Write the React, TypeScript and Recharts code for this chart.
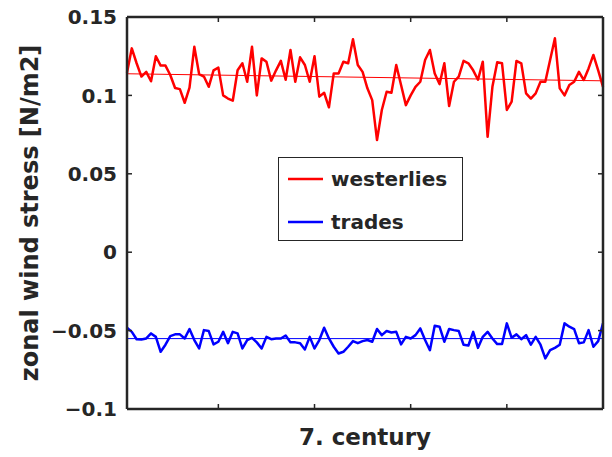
import React from "react";
import {
  LineChart,
  Line,
  XAxis,
  YAxis,
  Legend,
} from "recharts";

// years of the 7th century, one sample per year
const YEARS = Array.from({ length: 100 }, (_, i) => 601 + i);

const WESTERLIES = [
  0.1145, 0.13, 0.1205, 0.112, 0.115, 0.109, 0.125, 0.119, 0.119, 0.113,
  0.1047, 0.104, 0.0953, 0.105, 0.131, 0.1136, 0.112, 0.1055, 0.116, 0.1177,
  0.1, 0.098, 0.0966, 0.116, 0.1205, 0.1087, 0.131, 0.1, 0.1236, 0.1215,
  0.1094, 0.116, 0.122, 0.11, 0.129, 0.1087, 0.1243, 0.1194, 0.1087, 0.125,
  0.0992, 0.1017, 0.0924, 0.114, 0.114, 0.1215, 0.1205, 0.1358, 0.1194, 0.115,
  0.1045, 0.097, 0.0715, 0.0907, 0.1023, 0.1017, 0.1194, 0.1066, 0.0938, 0.1,
  0.1055, 0.1087, 0.1226, 0.129, 0.114, 0.1072, 0.1205, 0.0932, 0.1087, 0.112,
  0.122, 0.1205, 0.116, 0.11, 0.1215, 0.0736, 0.1055, 0.1211, 0.1205, 0.0907,
  0.096, 0.122, 0.1205, 0.1013, 0.098, 0.1013, 0.1087, 0.1087, 0.1226, 0.1364,
  0.1045, 0.1, 0.1066, 0.1087, 0.115, 0.1098, 0.1172, 0.1258, 0.116, 0.1055,
];

const TRADES = [
  -0.0482, -0.0508, -0.0555, -0.0557, -0.055, -0.0518, -0.054, -0.0635, -0.059, -0.0535,
  -0.0524, -0.0524, -0.055, -0.049, -0.056, -0.0614, -0.0497, -0.0503, -0.0588, -0.0571,
  -0.0508, -0.058, -0.0508, -0.0518, -0.0614, -0.056, -0.0546, -0.0575, -0.0614, -0.054,
  -0.0555, -0.0551, -0.055, -0.0531, -0.0575, -0.0575, -0.058, -0.062, -0.054, -0.0614,
  -0.056, -0.0482, -0.055, -0.0603, -0.0646, -0.0635, -0.0603, -0.0567, -0.058, -0.0567,
  -0.056, -0.0571, -0.049, -0.0529, -0.0503, -0.0512, -0.0508, -0.0588, -0.054, -0.055,
  -0.0529, -0.0486, -0.056, -0.0625, -0.0469, -0.0475, -0.0571, -0.049, -0.0497, -0.0503,
  -0.059, -0.0595, -0.0508, -0.061, -0.054, -0.0508, -0.055, -0.0586, -0.0586, -0.0454,
  -0.0546, -0.0524, -0.0555, -0.0529, -0.059, -0.054, -0.059, -0.0677, -0.0625, -0.061,
  -0.059, -0.0454, -0.0475, -0.049, -0.058, -0.0575, -0.0497, -0.0603, -0.0567, -0.0454,
];

// linear trends, start and end values
const WESTERLIES_TREND = [0.1138, 0.1093];
const TRADES_TREND = [-0.0551, -0.0551];

const SERIES_ORDER = ["westerlies", "trades"];
const X_TICKS = [620, 640, 660, 680];
const Y_TICKS = [-0.1, -0.05, 0, 0.05, 0.1, 0.15];

const FONT = "'DejaVu Sans', sans-serif";
const INK = "#262626";

const last = YEARS.length - 1;
const data = YEARS.map((year, i) => ({
  year,
  westerlies: WESTERLIES[i],
  trades: TRADES[i],
  wTrend: i === 0 ? WESTERLIES_TREND[0] : i === last ? WESTERLIES_TREND[1] : null,
  tTrend: i === 0 ? TRADES_TREND[0] : i === last ? TRADES_TREND[1] : null,
}));

const fmtY = (v: number) => {
  if (v === 0) return "0";
  const s = String(Math.abs(Math.round(v * 1000) / 1000));
  return v < 0 ? "\u2212" + s : s;
};

function LegendBox({ payload }: any) {
  const items = SERIES_ORDER.map((key) =>
    (payload || []).find((p: any) => p.dataKey === key)
  ).filter(Boolean);
  return (
    <div
      style={{
        width: 185,
        height: 84,
        boxSizing: "border-box",
        border: `1.5px solid ${INK}`,
        background: "#fff",
        fontFamily: FONT,
        fontWeight: 700,
        fontSize: 20,
        color: INK,
        paddingTop: 2,
      }}
    >
      {items.map((p: any) => (
        <div
          key={p.dataKey}
          style={{ display: "flex", alignItems: "center", height: 38, marginBottom: 5 }}
        >
          <svg width={52} height={10} style={{ flex: "none" }}>
            <line x1={9} x2={44} y1={5} y2={5} stroke={p.color} strokeWidth={2.5} />
          </svg>
          <span>{p.value}</span>
        </div>
      ))}
    </div>
  );
}

export default function App() {
  return (
    <div style={{ position: "absolute", left: 0, top: 0, width: 612, height: 457, background: "#fff" }}>
      <LineChart
        width={612}
        height={457}
        data={data}
        margin={{ top: 0, right: 0, bottom: 0, left: 0 }}
      >
        <XAxis
          xAxisId="bottom"
          dataKey="year"
          type="number"
          domain={[601, 700]}
          ticks={X_TICKS}
          tickFormatter={() => ""}
          tickSize={-5}
          height={48}
          axisLine={{ stroke: INK, strokeWidth: 2.5 }}
          tickLine={{ stroke: INK, strokeWidth: 1.5 }}
          label={{
            content: () => (
              <text
                x={365}
                y={445}
                textAnchor="middle"
                fontFamily={FONT}
                fontWeight={700}
                fontSize={23}
                fill={INK}
              >
                7. century
              </text>
            ),
          }}
        />
        <XAxis
          xAxisId="top"
          orientation="top"
          dataKey="year"
          type="number"
          domain={[601, 700]}
          ticks={X_TICKS}
          tickFormatter={() => ""}
          tickSize={-5}
          height={17}
          axisLine={{ stroke: INK, strokeWidth: 2.5 }}
          tickLine={{ stroke: INK, strokeWidth: 1.5 }}
        />
        <YAxis
          yAxisId="left"
          type="number"
          domain={[-0.1, 0.15]}
          ticks={Y_TICKS}
          allowDataOverflow
          width={127}
          tickSize={-5}
          tickMargin={15}
          tickFormatter={fmtY}
          tick={{ fontFamily: FONT, fontWeight: 700, fontSize: 20, fill: INK }}
          axisLine={{ stroke: INK, strokeWidth: 2.5 }}
          tickLine={{ stroke: INK, strokeWidth: 1.5 }}
          label={{
            content: () => (
              <text
                x={0}
                y={0}
                transform="translate(38 213) rotate(-90)"
                textAnchor="middle"
                fontFamily={FONT}
                fontWeight={700}
                fontSize={24}
                fill={INK}
              >
                zonal wind stress [N/m2]
              </text>
            ),
          }}
        />
        <YAxis
          yAxisId="right"
          orientation="right"
          type="number"
          domain={[-0.1, 0.15]}
          ticks={Y_TICKS}
          allowDataOverflow
          width={9}
          tickSize={-5}
          tickFormatter={() => ""}
          axisLine={{ stroke: INK, strokeWidth: 2.5 }}
          tickLine={{ stroke: INK, strokeWidth: 1.5 }}
        />
        <Legend
          layout="vertical"
          align="center"
          verticalAlign="middle"
          wrapperStyle={{ left: 278, top: 157, width: 185, height: 84 }}
          content={<LegendBox />}
        />
        <Line
          xAxisId="bottom"
          yAxisId="left"
          dataKey="wTrend"
          stroke="#ff0000"
          strokeWidth={1}
          dot={false}
          connectNulls
          legendType="none"
          isAnimationActive={false}
        />
        <Line
          xAxisId="bottom"
          yAxisId="left"
          dataKey="tTrend"
          stroke="#0000ff"
          strokeWidth={1}
          dot={false}
          connectNulls
          legendType="none"
          isAnimationActive={false}
        />
        <Line
          xAxisId="bottom"
          yAxisId="left"
          name="westerlies"
          dataKey="westerlies"
          stroke="#ff0000"
          strokeWidth={2.5}
          strokeLinejoin="round"
          dot={false}
          isAnimationActive={false}
        />
        <Line
          xAxisId="bottom"
          yAxisId="left"
          name="trades"
          dataKey="trades"
          stroke="#0000ff"
          strokeWidth={2.5}
          strokeLinejoin="round"
          dot={false}
          isAnimationActive={false}
        />
      </LineChart>
    </div>
  );
}
